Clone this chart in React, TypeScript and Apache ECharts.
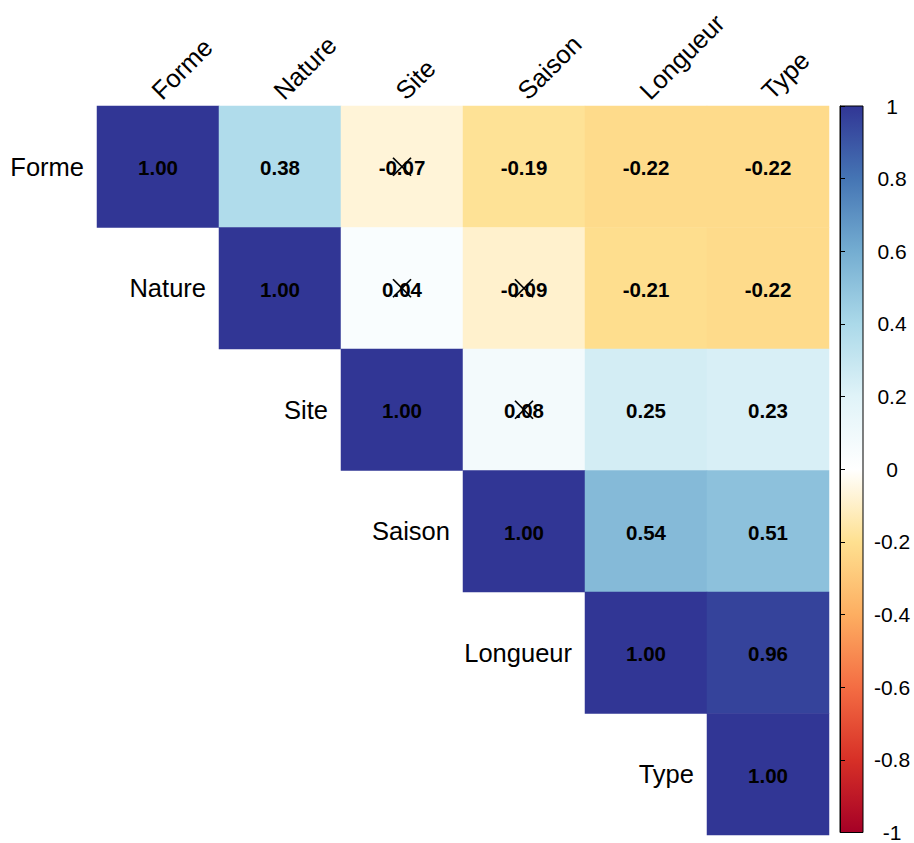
import React, { useEffect, useRef } from "react";
import * as echarts from "echarts";

// Variables of the correlation matrix (rows and columns share the same order)
const variables = ["Forme", "Nature", "Site", "Saison", "Longueur", "Type"];

// Upper triangle, each row starting at its diagonal cell
const rowForme = [1.0, 0.38, -0.07, -0.19, -0.22, -0.22];
const rowNature = [1.0, 0.04, -0.09, -0.21, -0.22];
const rowSite = [1.0, 0.08, 0.25, 0.23];
const rowSaison = [1.0, 0.54, 0.51];
const rowLongueur = [1.0, 0.96];
const rowType = [1.0];
const upperRows = [rowForme, rowNature, rowSite, rowSaison, rowLongueur, rowType];

// Pairs whose correlation is not significant (crossed out)
const insignificantPairs: [string, string][] = [
  ["Forme", "Site"],
  ["Nature", "Site"],
  ["Nature", "Saison"],
  ["Site", "Saison"],
];

// Colour scale: RdYlBu diverging palette from -1 to 1
const scaleMin = -1;
const scaleMax = 1;
const scaleStep = 0.2;
const palette = [
  "#A50026", "#D73027", "#F46D43", "#FDAE61", "#FEE090", "#FFFFFF",
  "#E0F3F8", "#ABD9E9", "#74ADD1", "#4575B4", "#313695",
];

const FONT = "Arial, 'Liberation Sans', sans-serif";
const NAME_SIZE = 25.5;

export default function App() {
  const ref = useRef<HTMLDivElement>(null);

  useEffect(() => {
    if (!ref.current) return;
    const chart = echarts.init(ref.current, undefined, { renderer: "svg" });

    const cells: [number, number, number][] = [];
    upperRows.forEach((row, r) => {
      row.forEach((v, k) => cells.push([r + k, r, v]));
    });

    const crosses = insignificantPairs.map(([a, b]) => [
      variables.indexOf(b),
      variables.indexOf(a),
    ]);

    const diag = variables.map((name, i) => [i, i, name]);
    const colHeads = variables.map((name, i) => [i, 0, name]);

    // Gradient for the colour bar, top = max, bottom = min
    const barGradient = new echarts.graphic.LinearGradient(
      0, 0, 0, 1,
      palette
        .slice()
        .reverse()
        .map((c, i) => ({ offset: i / (palette.length - 1), color: c }))
    );

    chart.setOption({
      animation: false,
      textStyle: { fontFamily: FONT },
      grid: [
        { left: 97, top: 106, width: 732, height: 729 },
        {
          left: 840, top: 106, width: 23, height: 729,
          show: true, backgroundColor: barGradient,
          borderColor: "#000", borderWidth: 1,
        },
      ],
      xAxis: [
        {
          type: "category", gridIndex: 0, data: variables, position: "top",
          axisLine: { show: false }, axisTick: { show: false },
          axisLabel: { show: false }, splitLine: { show: false },
        },
        { type: "value", gridIndex: 1, show: false, min: 0, max: 1 },
      ],
      yAxis: [
        {
          type: "category", gridIndex: 0, data: variables, inverse: true,
          axisLine: { show: false }, axisTick: { show: false },
          axisLabel: { show: false }, splitLine: { show: false },
        },
        {
          type: "value", gridIndex: 1, position: "right",
          min: scaleMin, max: scaleMax, interval: scaleStep,
          axisLine: { show: true, lineStyle: { color: "#000", width: 1 } },
          axisTick: { show: true, length: 5, lineStyle: { color: "#000" } },
          splitLine: { show: false },
          axisLabel: {
            color: "#000", fontSize: 21, align: "center", margin: 29,
            formatter: (v: number) => String(Number(v.toFixed(1))),
          },
        },
      ],
      visualMap: {
        show: false, type: "continuous", min: scaleMin, max: scaleMax,
        seriesIndex: 0, dimension: 2, inRange: { color: palette },
      },
      series: [
        {
          type: "heatmap", xAxisIndex: 0, yAxisIndex: 0, data: cells, z: 2,
          label: {
            show: true, color: "#000", fontSize: 20.5, fontWeight: "bold",
            fontFamily: FONT, offset: [0, 1],
            formatter: (p: any) => (p.value[2] as number).toFixed(2),
          },
          emphasis: { disabled: true },
        },
        {
          // Crosses over non-significant coefficients
          type: "custom", xAxisIndex: 0, yAxisIndex: 0, data: crosses, z: 6,
          silent: true,
          renderItem: (params: any, api: any) => {
            const c = api.coord([api.value(0), api.value(1)]);
            const h = 9;
            const style = { stroke: "#000", lineWidth: 1.7 };
            return {
              type: "group",
              children: [
                { type: "line", shape: { x1: c[0] - h, y1: c[1] - h, x2: c[0] + h, y2: c[1] + h }, style },
                { type: "line", shape: { x1: c[0] - h, y1: c[1] + h, x2: c[0] + h, y2: c[1] - h }, style },
              ],
            };
          },
        },
        {
          // Row names beside each diagonal cell
          type: "custom", xAxisIndex: 0, yAxisIndex: 0, data: diag, z: 6,
          silent: true, clip: false,
          renderItem: (params: any, api: any) => {
            const c = api.coord([api.value(0), api.value(1)]);
            const s = api.size([1, 1]);
            return {
              type: "text",
              x: c[0] - s[0] / 2 - 13,
              y: c[1],
              style: {
                text: variables[params.dataIndex],
                textAlign: "right", textVerticalAlign: "middle",
                fontSize: NAME_SIZE, fontFamily: FONT, fill: "#000",
              },
            };
          },
        },
        {
          // Column names above the matrix, tilted 45 degrees
          type: "custom", xAxisIndex: 0, yAxisIndex: 0, data: colHeads, z: 6,
          silent: true, clip: false,
          renderItem: (params: any, api: any) => {
            const c = api.coord([api.value(0), api.value(1)]);
            const s = api.size([1, 1]);
            return {
              type: "text",
              x: c[0] + 7,
              y: c[1] - s[1] / 2 - 2,
              rotation: Math.PI / 4,
              style: {
                text: variables[params.dataIndex],
                textAlign: "left", textVerticalAlign: "bottom",
                fontSize: NAME_SIZE, fontFamily: FONT, fill: "#000",
              },
            };
          },
        },
      ],
    });

    return () => chart.dispose();
  }, []);

  return (
    <div
      ref={ref}
      style={{ position: "fixed", left: 0, top: 0, width: 914, height: 843, background: "#fff" }}
    />
  );
}
